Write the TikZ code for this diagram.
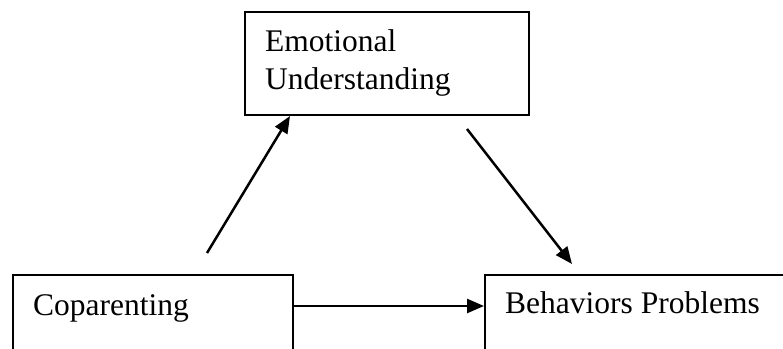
\documentclass[tikz,border=0pt]{standalone}
\usepackage{fontspec}
\setmainfont{Liberation Serif}
\usetikzlibrary{arrows.meta}
\begin{document}
\begin{tikzpicture}[x=1pt,y=-1pt,
  box/.style={draw=black,line width=1.7pt,rectangle,inner sep=0pt},
  lbl/.style={inner sep=0pt,anchor=base west,align=left,font=\fontsize{31.5}{38}\selectfont},
  conn/.style={line width=2.5pt,-{Triangle[length=17pt,width=14pt]}}]
\useasboundingbox (0,0) rectangle (783,348);
\clip (0,0) rectangle (783,348);
\node[box,minimum width=284pt,minimum height=103pt,anchor=north west] (emo) at (244,11) {};
\node[box,minimum width=280pt,minimum height=130pt,anchor=north west] (cop) at (12,274) {};
\node[box,minimum width=330pt,minimum height=130pt,anchor=north west] (beh) at (484,274) {};
\node[lbl] (emot) at (265,89) {Emotional\\Understanding};
\node[lbl] (copt) at (33,315) {Coparenting};
\node[lbl] (beht) at (505,313) {Behaviors Problems};
\coordinate (a1s) at (207,253);
\coordinate (a1e) at (290,116);
\coordinate (a2s) at (467,129);
\coordinate (a2e) at (572,264);
\coordinate (a3s) at (292,306);
\coordinate (a3e) at (484,306);
\draw[conn] (a1s) -- (a1e);
\draw[conn] (a2s) -- (a2e);
\draw[conn] (a3s) -- (a3e);
\end{tikzpicture}
\end{document}
